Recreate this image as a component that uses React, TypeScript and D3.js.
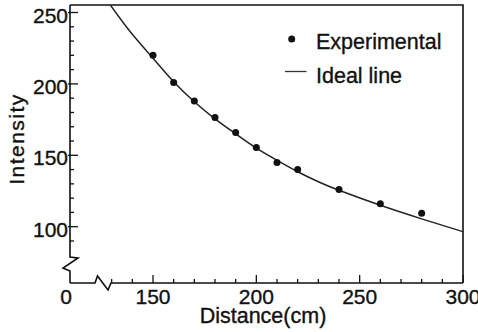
import React from 'react';
import * as d3 from 'd3';

// measured points
const distances = [150, 160, 170, 180, 190, 200, 210, 220, 240, 260, 280];
const intensities = [220, 201, 188, 176.5, 166, 155.5, 145, 140, 126, 116, 109.5];

// ideal curve, sampled
const idealDistances = [129, 139, 150, 160, 170, 180, 190, 200, 210, 220, 230, 240, 260, 280, 300];
const idealIntensities = [256, 236.5, 218, 201.5, 187.5, 175.5, 165, 155, 146.5, 138.5, 131.5, 125.5, 115, 105.5, 96.5];

const xTickLabels = [150, 200, 250, 300];
const yTickLabels = [100, 150, 200, 250];

const W = 478;
const H = 332;
const left = 70;
const right = 463;
const top = 5;
const bottom = 283;
const font = 'Liberation Sans, Arial, Helvetica, sans-serif';
const ink = '#111';

// shared text style, a touch heavier than the plain face
const txt = { fontFamily: font, fontSize: 21, fill: ink, stroke: ink, strokeWidth: 0.35 };

const App = () => {
  const x = d3.scaleLinear().domain([150, 300]).range([153, right]);
  const y = d3.scaleLinear().domain([100, 250]).range([226.7, 12.5]);

  const idealData = idealDistances.map((d, i) => [d, idealIntensities[i]] as [number, number]);
  const line = d3
    .line<[number, number]>()
    .x(d => x(d[0]))
    .y(d => y(d[1]))
    .curve(d3.curveNatural);

  const xTicks = d3.range(130, 301, 10);
  const yTicks = d3.range(90, 251, 10);

  // broken axes: zigzag near the origin on both
  const yAxisPath = `M${left},${top} L${left},257 L${left + 8},258 L${left - 7},268 L${left},271 L${left},${bottom}`;
  const xAxisPath = `M${left},${bottom} L95,${bottom} L97.5,276 L108,290 L111,${bottom} L${right},${bottom}`;

  return (
    <svg width={W} height={H} style={{ position: 'absolute', left: 0, top: 0, background: '#fff' }}>
      <defs>
        <clipPath id="plot">
          <rect x={left} y={top} width={right - left} height={bottom - top} />
        </clipPath>
      </defs>

      {/* frame */}
      <path d={`M${left},${top} L${right},${top} L${right},${bottom}`} fill="none" stroke={ink} strokeWidth={1.6} />
      <path d={yAxisPath} fill="none" stroke={ink} strokeWidth={1.6} />
      <path d={xAxisPath} fill="none" stroke={ink} strokeWidth={1.6} />

      {/* x ticks */}
      {xTicks.map(t => {
        const major = t % 50 === 0;
        return (
          <line key={'xt' + t} x1={x(t)} x2={x(t)} y1={bottom} y2={bottom - (major ? 8 : 4)} stroke={ink} strokeWidth={1.3} />
        );
      })}
      {xTickLabels.map(t => (
        <text key={'xl' + t} x={x(t)} y={303.5} textAnchor="middle" {...txt}>
          {t}
        </text>
      ))}
      <text x={66} y={303.5} textAnchor="middle" {...txt}>0</text>

      {/* y ticks */}
      {yTicks.map(t => {
        const major = t % 50 === 0;
        return (
          <line key={'yt' + t} x1={major ? left - 2 : left} x2={left + (major ? 8 : 4)} y1={y(t)} y2={y(t)} stroke={ink} strokeWidth={1.3} />
        );
      })}
      {yTickLabels.map(t => (
        <text key={'yl' + t} x={68} y={y(t) + 10} textAnchor="end" {...txt}>
          {t}
        </text>
      ))}

      {/* axis titles */}
      <text x={263} y={322.5} textAnchor="middle" {...txt} fontSize={21.5}>
        Distance(cm)
      </text>
      <text transform="translate(24,139) rotate(-90)" textAnchor="middle" {...txt} letterSpacing={1.5}>
        Intensity
      </text>

      {/* data */}
      <g clipPath="url(#plot)">
        <path d={line(idealData) ?? ''} fill="none" stroke="#222" strokeWidth={1.5} />
      </g>
      {distances.map((d, i) => (
        <circle key={'p' + d} cx={x(d)} cy={y(intensities[i])} r={3.5} fill={ink} />
      ))}

      {/* legend */}
      <circle cx={291.7} cy={39} r={3.5} fill={ink} />
      <text x={316} y={48.5} {...txt} fontSize={21.5}>Experimental</text>
      <line x1={285} x2={306.5} y1={71.5} y2={71.5} stroke="#333" strokeWidth={1.3} />
      <text x={316} y={83} {...txt} fontSize={21.5}>Ideal line</text>
    </svg>
  );
};

export default App;
